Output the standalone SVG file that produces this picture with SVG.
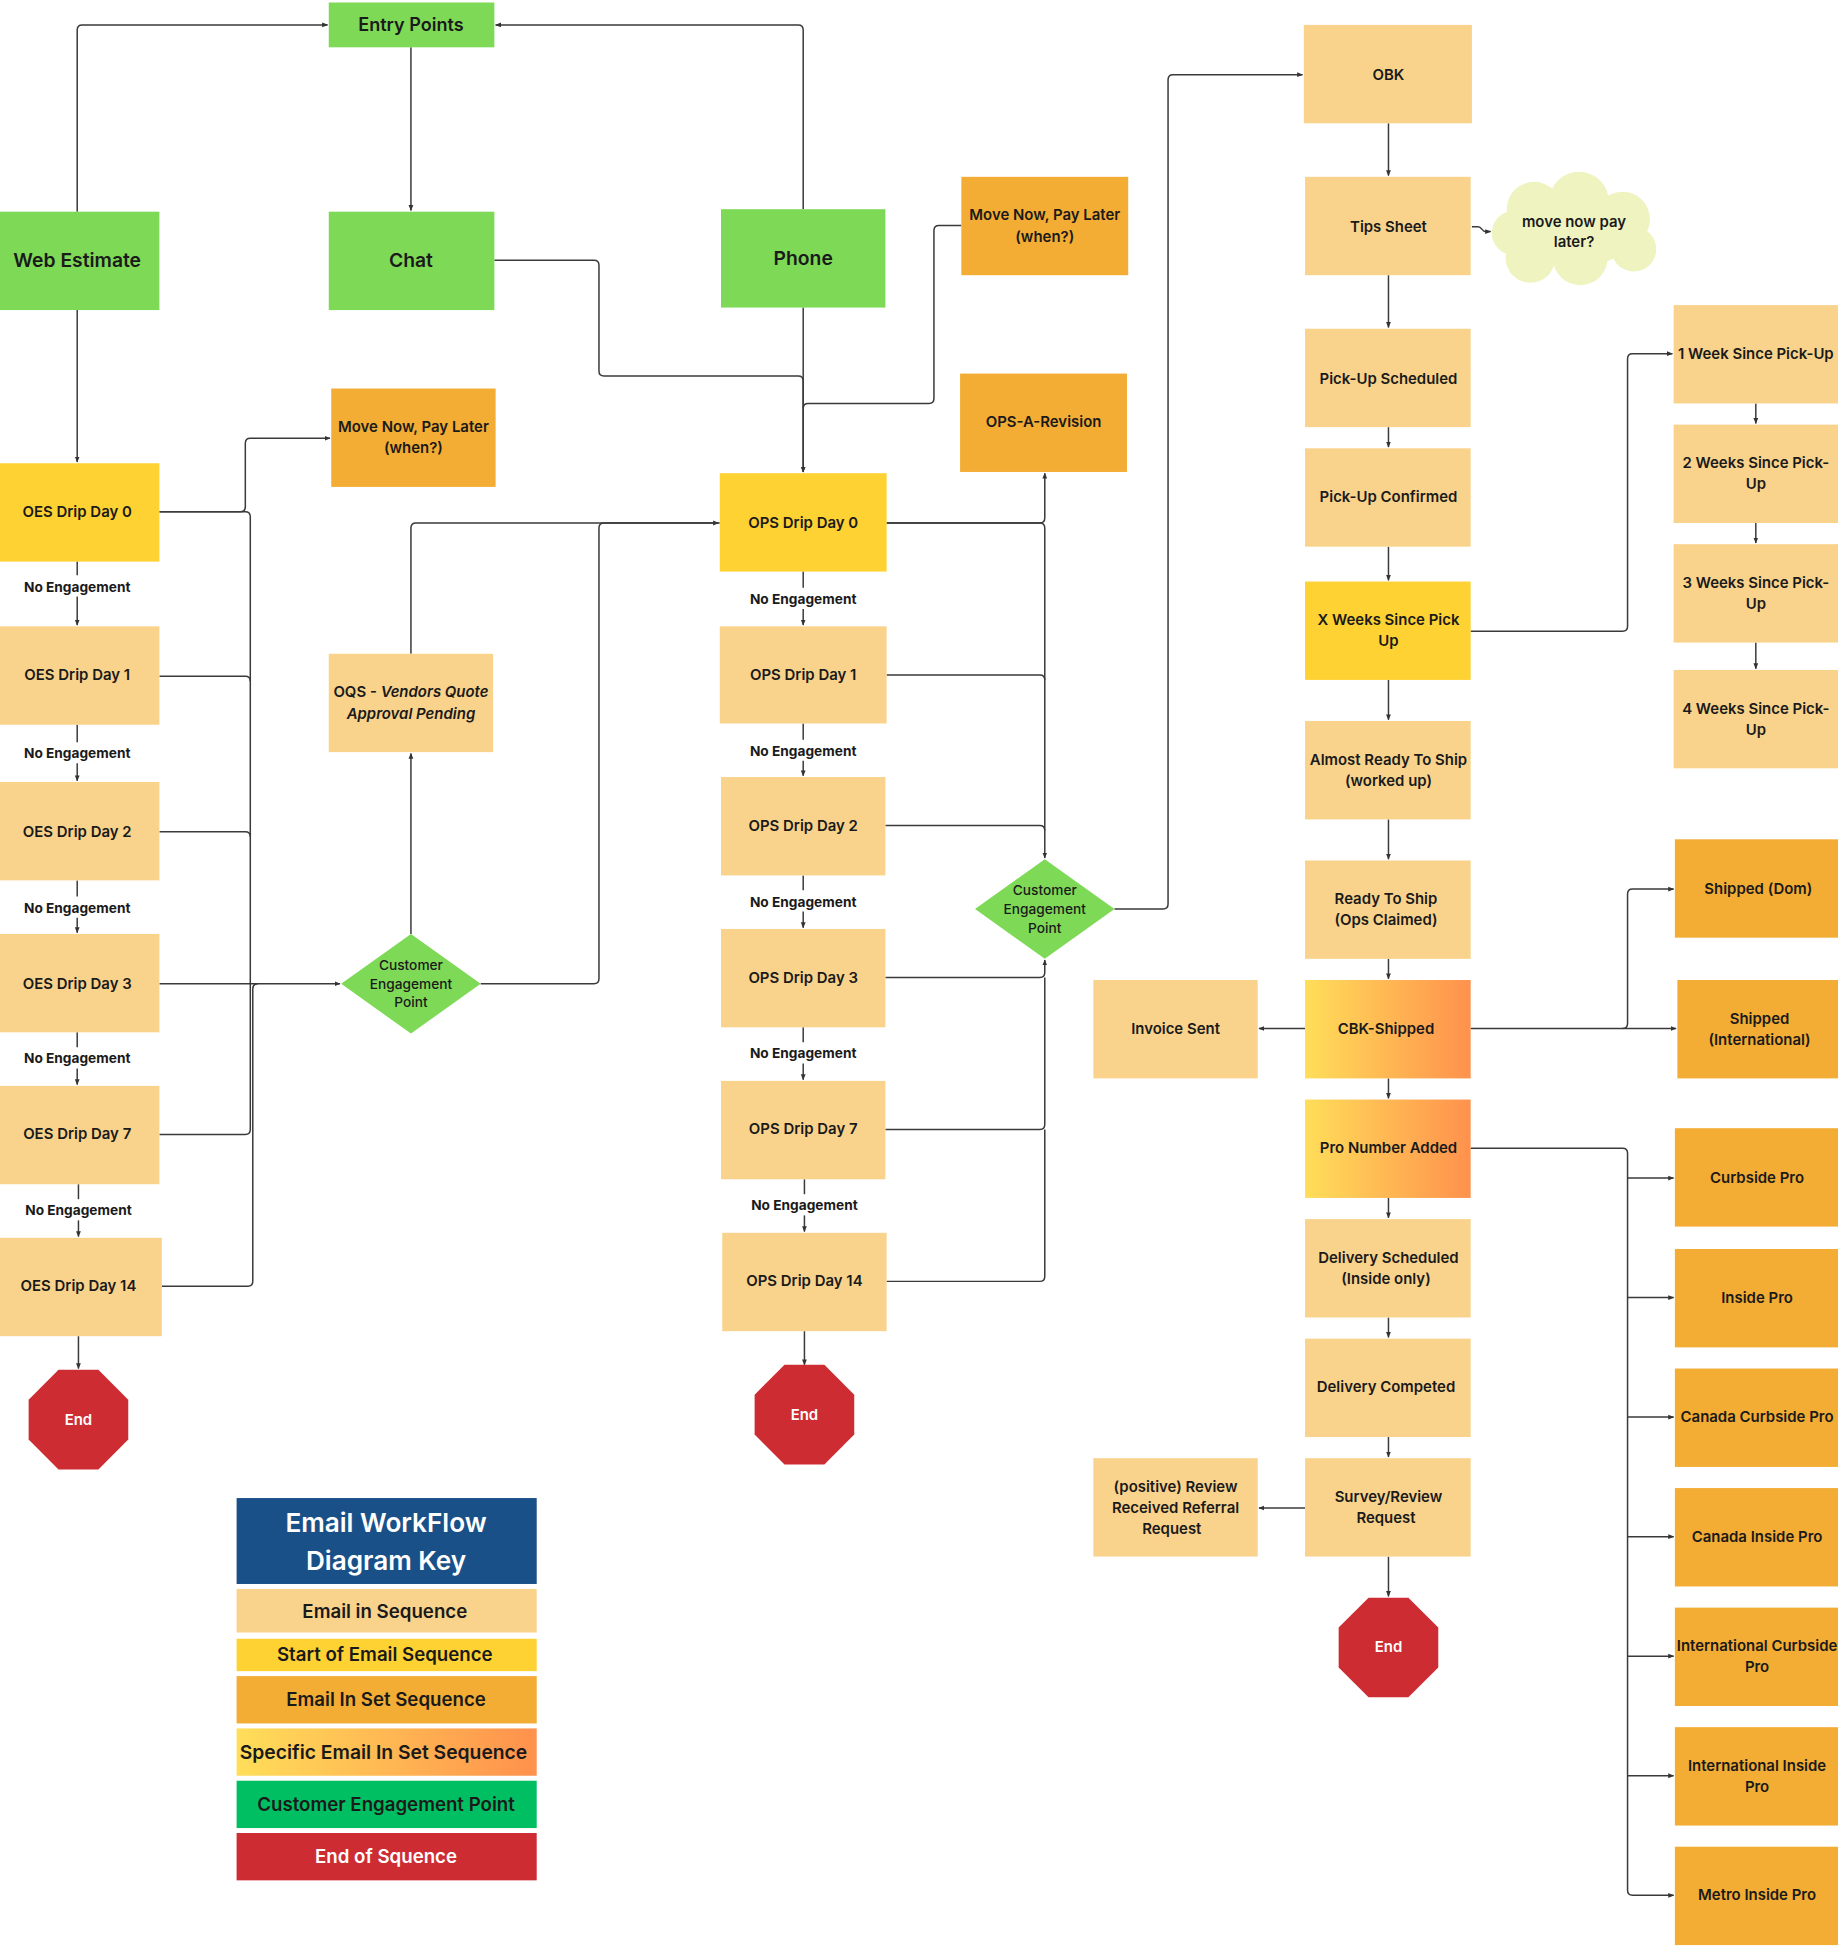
<svg xmlns="http://www.w3.org/2000/svg" width="1838" height="1953" viewBox="0 0 1838 1953">
<defs>
<style>
.t{font-family:Inter,'Noto Sans','Liberation Sans',sans-serif;font-weight:600;font-size:12px;fill:#1a1a1a;text-anchor:middle;dominant-baseline:central}
.big{font-size:15.5px}
.ne{font-size:11px;font-weight:700}
.dm{font-size:11px;font-weight:500}
.lg{font-size:15px}
.w{fill:#ffffff}
.green{fill:#7ED957}
.peach{fill:#F9D38C}
.yellow{fill:#FFD233}
.orange{fill:#F3AC34}
.grad{fill:url(#gr)}
.red{fill:#CD2C33}
.ln{fill:none;stroke:#3a3a3a;stroke-width:1.2;stroke-linejoin:round}
.ar{marker-end:url(#ah)}
</style>
<linearGradient id="gr" x1="0" y1="0" x2="1" y2="0">
<stop offset="0" stop-color="#FFDE59"/>
<stop offset="1" stop-color="#FF914D"/>
</linearGradient>
<marker id="ah" viewBox="0 0 10 10" refX="9" refY="5" markerWidth="4" markerHeight="4" orient="auto-start-reverse">
<path d="M0,1 L10,5 L0,9 z" fill="#333"/>
</marker>
</defs>
<rect width="1838" height="1953" fill="#ffffff"/>
<g transform="scale(1.24526)">

<g id="connectors">
<path class="ln ar" d="M62,170 V24 Q62,20 66,20 H263"/>
<path class="ln ar" d="M645,168 V24 Q645,20 641,20 H398"/>
<path class="ln ar" d="M330,38 V169"/>
<path class="ln ar" d="M397,209 H477 Q481,209 481,213 V298 Q481,302 485,302 H641 Q645,302 645,306 V379"/>
<path class="ln ar" d="M645,247 V379"/>
<path class="ln" d="M772,181 H754 Q750,181 750,185 V320 Q750,324 746,324 H649 Q645,324 645,328"/>
<path class="ln ar" d="M62,249 V371"/>
<path class="ln ar" d="M128,411 H193 Q197,411 197,407 V356 Q197,352 201,352 H265"/>
<path class="ln ar" d="M128,411 H197 Q201,411 201,415 V790 H273"/>
<path class="ln" d="M128,543 H197 Q201,543 201,547"/>
<path class="ln" d="M128,668 H197 Q201,668 201,672"/>
<path class="ln" d="M128,790 H201"/>
<path class="ln" d="M128,911 H197 Q201,911 201,907 V790"/>
<path class="ln" d="M130,1033 H199 Q203,1033 203,1029 V794 Q203,790 207,790"/>
<path class="ln ar" d="M330,750 V605"/>
<path class="ln ar" d="M330,525 V424 Q330,420 334,420 H577"/>
<path class="ln" d="M386,790 H477 Q481,790 481,786 V424 Q481,420 485,420 H578"/>
<path class="ln" d="M62,451 V462"/><path class="ln ar" d="M62,479 V502"/>
<path class="ln" d="M62,582 V596"/><path class="ln ar" d="M62,613 V627"/>
<path class="ln" d="M62,707 V720"/><path class="ln ar" d="M62,737 V749"/>
<path class="ln" d="M62,829 V841"/><path class="ln ar" d="M62,858 V871"/>
<path class="ln" d="M63,951 V963"/><path class="ln ar" d="M63,980 V993"/>
<path class="ln ar" d="M63,1073 V1099"/>
<path class="ln" d="M645,459 V472"/><path class="ln ar" d="M645,489 V502"/>
<path class="ln" d="M645,581 V594"/><path class="ln ar" d="M645,611 V623"/>
<path class="ln" d="M645,703 V715"/><path class="ln ar" d="M645,732 V745"/>
<path class="ln" d="M645,825 V837"/><path class="ln ar" d="M645,854 V867"/>
<path class="ln" d="M646,947 V959"/><path class="ln ar" d="M646,976 V989"/>
<path class="ln ar" d="M646,1069 V1096"/>
<path class="ln ar" d="M712,420 H835 Q839,420 839,416 V380"/>
<path class="ln ar" d="M712,420 H835 Q839,420 839,424 V689"/>
<path class="ln" d="M712,542 H835 Q839,542 839,546"/>
<path class="ln" d="M711,663 H835 Q839,663 839,667"/>
<path class="ln ar" d="M711,785 H835 Q839,785 839,781 V771"/>
<path class="ln" d="M711,907 H835 Q839,907 839,903 V785"/>
<path class="ln" d="M712,1029 H835 Q839,1029 839,1025 V907"/>
<path class="ln ar" d="M895,730 H934 Q938,730 938,726 V64 Q938,60 942,60 H1046"/>
<path class="ln ar" d="M1115,99 V141"/>
<path class="ln ar" d="M1115,221 V263"/>
<path class="ln ar" d="M1115,343 V359"/>
<path class="ln ar" d="M1115,439 V466"/>
<path class="ln ar" d="M1115,546 V578"/>
<path class="ln ar" d="M1115,658 V690"/>
<path class="ln ar" d="M1115,770 V786"/>
<path class="ln ar" d="M1115,866 V882"/>
<path class="ln ar" d="M1115,962 V978"/>
<path class="ln ar" d="M1115,1058 V1074"/>
<path class="ln ar" d="M1115,1154 V1170"/>
<path class="ln ar" d="M1115,1250 V1282"/>
<path class="ln ar" d="M1182,182 H1187 C1190,182 1190,186 1193,186 H1197"/>
<path class="ln ar" d="M1181,507 H1303 Q1307,507 1307,503 V288 Q1307,284 1311,284 H1343"/>
<path class="ln ar" d="M1410,324 V340"/>
<path class="ln ar" d="M1410,420 V436"/>
<path class="ln ar" d="M1410,516 V537"/>
<path class="ln ar" d="M1181,826 H1346"/>
<path class="ln ar" d="M1303,826 Q1307,826 1307,822 V718 Q1307,714 1311,714 H1344"/>
<path class="ln ar" d="M1048,826 H1011"/>
<path class="ln ar" d="M1048,1211 H1011"/>
<path class="ln ar" d="M1181,922 H1303 Q1307,922 1307,926 V1518 Q1307,1522 1311,1522 H1344"/>
<path class="ln ar" d="M1307,946 H1344"/>
<path class="ln ar" d="M1307,1042 H1344"/>
<path class="ln ar" d="M1307,1138 H1344"/>
<path class="ln ar" d="M1307,1234 H1344"/>
<path class="ln ar" d="M1307,1330 H1344"/>
<path class="ln ar" d="M1307,1426 H1344"/>
</g>

<g id="labels">
<text class="t ne" x="62" y="471">No  Engagement</text>
<text class="t ne" x="62" y="605">No Engagement</text>
<text class="t ne" x="62" y="729">No Engagement</text>
<text class="t ne" x="62" y="850">No Engagement</text>
<text class="t ne" x="63" y="972">No Engagement</text>
<text class="t ne" x="645" y="481">No Engagement</text>
<text class="t ne" x="645" y="603">No Engagement</text>
<text class="t ne" x="645" y="724">No Engagement</text>
<text class="t ne" x="645" y="846">No Engagement</text>
<text class="t ne" x="646" y="968">No Engagement</text>
</g>

<g id="entry-points"><rect class="green" x="264" y="2" width="133" height="36"/><text class="t" style="font-size:14.5px" x="330" y="20">Entry Points</text></g>
<g id="web-estimate"><rect class="green" x="0" y="170" width="128" height="79"/><text class="t big" x="62" y="209">Web Estimate</text></g>
<g id="chat"><rect class="green" x="264" y="170" width="133" height="79"/><text class="t big" x="330" y="209">Chat</text></g>
<g id="phone"><rect class="green" x="579" y="168" width="132" height="79"/><text class="t big" x="645" y="207">Phone</text></g>

<g id="mnpl-left"><rect class="orange" x="266" y="312" width="132" height="79"/><text class="t" x="332" y="343">Move Now, Pay Later</text><text class="t" x="332" y="360">(when?)</text></g>
<g id="mnpl-right"><rect class="orange" x="772" y="142" width="134" height="79"/><text class="t" x="839" y="173">Move Now, Pay Later</text><text class="t" x="839" y="190">(when?)</text></g>
<g id="ops-a-revision"><rect class="orange" x="771" y="300" width="134" height="79"/><text class="t" x="838" y="339">OPS-A-Revision</text></g>
<g id="oqs"><rect class="peach" x="264" y="525" width="132" height="79"/><text class="t" x="330" y="556">OQS - <tspan font-style="italic">Vendors Quote</tspan></text><text class="t" font-style="italic" x="330" y="573">Approval Pending</text></g>

<g id="oes0"><rect class="yellow" x="0" y="372" width="128" height="79"/><text class="t" x="62" y="411">OES Drip Day 0</text></g>
<g id="oes1"><rect class="peach" x="0" y="503" width="128" height="79"/><text class="t" x="62" y="542">OES Drip Day 1</text></g>
<g id="oes2"><rect class="peach" x="0" y="628" width="128" height="79"/><text class="t" x="62" y="668">OES Drip Day 2</text></g>
<g id="oes3"><rect class="peach" x="0" y="750" width="128" height="79"/><text class="t" x="62" y="790">OES Drip Day 3</text></g>
<g id="oes7"><rect class="peach" x="0" y="872" width="128" height="79"/><text class="t" x="62" y="911">OES Drip Day 7</text></g>
<g id="oes14"><rect class="peach" x="0" y="994" width="130" height="79"/><text class="t" x="63" y="1033">OES Drip Day 14</text></g>
<g id="end-oes"><polygon class="red" points="47,1100 79,1100 103,1124 103,1156 79,1180 47,1180 23,1156 23,1124"/><text class="t w" x="63" y="1140">End</text></g>

<g id="cep-left"><polygon class="green" points="274,790 330,750 386,790 330,830"/><text class="t dm" x="330" y="775">Customer</text><text class="t dm" x="330" y="790">Engagement</text><text class="t dm" x="330" y="805">Point</text></g>

<g id="ops0"><rect class="yellow" x="578" y="380" width="134" height="79"/><text class="t" x="645" y="420">OPS Drip Day 0</text></g>
<g id="ops1"><rect class="peach" x="578" y="503" width="134" height="78"/><text class="t" x="645" y="542">OPS Drip Day 1</text></g>
<g id="ops2"><rect class="peach" x="579" y="624" width="132" height="79"/><text class="t" x="645" y="663">OPS Drip Day 2</text></g>
<g id="ops3"><rect class="peach" x="579" y="746" width="132" height="79"/><text class="t" x="645" y="785">OPS Drip Day 3</text></g>
<g id="ops7"><rect class="peach" x="579" y="868" width="132" height="79"/><text class="t" x="645" y="907">OPS Drip Day 7</text></g>
<g id="ops14"><rect class="peach" x="580" y="990" width="132" height="79"/><text class="t" x="646" y="1029">OPS Drip Day 14</text></g>
<g id="end-ops"><polygon class="red" points="630,1096 662,1096 686,1120 686,1152 662,1176 630,1176 606,1152 606,1120"/><text class="t w" x="646" y="1136">End</text></g>

<g id="cep-right"><polygon class="green" points="783,730 839,690 895,730 839,770"/><text class="t dm" x="839" y="715">Customer</text><text class="t dm" x="839" y="730">Engagement</text><text class="t dm" x="839" y="745">Point</text></g>

<g id="obk"><rect class="peach" x="1047" y="20" width="135" height="79"/><text class="t" x="1115" y="60">OBK</text></g>
<g id="tips-sheet"><rect class="peach" x="1048" y="142" width="133" height="79"/><text class="t" x="1115" y="182">Tips Sheet</text></g>
<g id="cloud"><g fill="#EFF3C0"><circle cx="1232" cy="168" r="22"/><circle cx="1268" cy="162" r="24"/><circle cx="1303" cy="176" r="22"/><circle cx="1312" cy="200" r="18"/><circle cx="1269" cy="207" r="22"/><circle cx="1229" cy="207" r="20"/><circle cx="1216" cy="187" r="18"/><ellipse cx="1264" cy="186" rx="50" ry="28"/></g><text class="t" x="1264" y="178">move now pay</text><text class="t" x="1264" y="194">later?</text></g>
<g id="pickup-scheduled"><rect class="peach" x="1048" y="264" width="133" height="79"/><text class="t" x="1115" y="304">Pick-Up Scheduled</text></g>
<g id="pickup-confirmed"><rect class="peach" x="1048" y="360" width="133" height="79"/><text class="t" x="1115" y="399">Pick-Up Confirmed</text></g>
<g id="x-weeks"><rect class="yellow" x="1048" y="467" width="133" height="79"/><text class="t" x="1115" y="498">X Weeks Since Pick</text><text class="t" x="1115" y="515">Up</text></g>
<g id="almost-ready"><rect class="peach" x="1048" y="579" width="133" height="79"/><text class="t" x="1115" y="610">Almost Ready To Ship</text><text class="t" x="1115" y="627">(worked up)</text></g>
<g id="ready-to-ship"><rect class="peach" x="1048" y="691" width="133" height="79"/><text class="t" x="1113" y="722">Ready To Ship</text><text class="t" x="1113" y="739">(Ops Claimed)</text></g>
<g id="cbk-shipped"><rect class="grad" x="1048" y="787" width="133" height="79"/><text class="t" x="1113" y="826">CBK-Shipped</text></g>
<g id="pro-number"><rect class="grad" x="1048" y="883" width="133" height="79"/><text class="t" x="1115" y="922">Pro Number Added</text></g>
<g id="delivery-scheduled"><rect class="peach" x="1048" y="979" width="133" height="79"/><text class="t" x="1115" y="1010">Delivery Scheduled</text><text class="t" x="1113" y="1027">(Inside only)</text></g>
<g id="delivery-completed"><rect class="peach" x="1048" y="1075" width="133" height="79"/><text class="t" x="1113" y="1114">Delivery Competed</text></g>
<g id="survey"><rect class="peach" x="1048" y="1171" width="133" height="79"/><text class="t" x="1115" y="1202">Survey/Review</text><text class="t" x="1113" y="1219">Request</text></g>
<g id="end-right"><polygon class="red" points="1099,1283 1131,1283 1155,1307 1155,1339 1131,1363 1099,1363 1075,1339 1075,1307"/><text class="t w" x="1115" y="1323">End</text></g>

<g id="invoice-sent"><rect class="peach" x="878" y="787" width="132" height="79"/><text class="t" x="944" y="826">Invoice Sent</text></g>
<g id="review"><rect class="peach" x="878" y="1171" width="132" height="79"/><text class="t" x="944" y="1194">(positive) Review</text><text class="t" x="944" y="1211">Received Referral</text><text class="t" x="941" y="1228">Request</text></g>

<g id="week1"><rect class="peach" x="1344" y="245" width="136" height="79"/><text class="t" x="1410" y="284">1 Week Since Pick-Up</text></g>
<g id="week2"><rect class="peach" x="1344" y="341" width="136" height="79"/><text class="t" x="1410" y="372">2 Weeks Since Pick-</text><text class="t" x="1410" y="389">Up</text></g>
<g id="week3"><rect class="peach" x="1344" y="437" width="136" height="79"/><text class="t" x="1410" y="468">3 Weeks Since Pick-</text><text class="t" x="1410" y="485">Up</text></g>
<g id="week4"><rect class="peach" x="1344" y="538" width="136" height="79"/><text class="t" x="1410" y="569">4 Weeks Since Pick-</text><text class="t" x="1410" y="586">Up</text></g>
<g id="shipped-dom"><rect class="orange" x="1345" y="674" width="135" height="79"/><text class="t" x="1412" y="714">Shipped (Dom)</text></g>
<g id="shipped-intl"><rect class="orange" x="1347" y="787" width="133" height="79"/><text class="t" x="1413" y="818">Shipped</text><text class="t" x="1413" y="835">(International)</text></g>
<g id="curbside-pro"><rect class="orange" x="1345" y="906" width="135" height="79"/><text class="t" x="1411" y="946">Curbside Pro</text></g>
<g id="inside-pro"><rect class="orange" x="1345" y="1003" width="135" height="79"/><text class="t" x="1411" y="1042">Inside Pro</text></g>
<g id="canada-curbside"><rect class="orange" x="1345" y="1099" width="135" height="79"/><text class="t" x="1411" y="1138">Canada Curbside Pro</text></g>
<g id="canada-inside"><rect class="orange" x="1345" y="1195" width="135" height="79"/><text class="t" x="1411" y="1234">Canada Inside Pro</text></g>
<g id="intl-curbside"><rect class="orange" x="1345" y="1291" width="135" height="79"/><text class="t" x="1411" y="1322">International Curbside</text><text class="t" x="1411" y="1339">Pro</text></g>
<g id="intl-inside"><rect class="orange" x="1345" y="1387" width="135" height="79"/><text class="t" x="1411" y="1418">International Inside</text><text class="t" x="1411" y="1435">Pro</text></g>
<g id="metro-inside"><rect class="orange" x="1345" y="1483" width="135" height="79"/><text class="t" x="1411" y="1522">Metro Inside Pro</text></g>

<g id="legend">
<rect x="190" y="1203" width="241" height="69" fill="#1A5088"/>
<text class="t w" style="font-size:21px" x="310" y="1223">Email WorkFlow</text>
<text class="t w" style="font-size:21px" x="310" y="1253">Diagram Key</text>
<rect class="peach" x="190" y="1276" width="241" height="35"/><text class="t lg" x="309" y="1294">Email in Sequence</text>
<rect class="yellow" x="190" y="1316" width="241" height="26"/><text class="t lg" x="309" y="1329">Start of Email Sequence</text>
<rect class="orange" x="190" y="1346" width="241" height="38"/><text class="t lg" x="310" y="1365">Email In Set Sequence</text>
<rect class="grad" x="190" y="1388" width="241" height="38"/><text class="t lg" style="font-size:15.5px" x="308" y="1407">Specific Email In Set Sequence</text>
<rect x="190" y="1430" width="241" height="38" fill="#00BF63"/><text class="t lg" x="310" y="1449">Customer Engagement Point</text>
<rect class="red" x="190" y="1472" width="241" height="38"/><text class="t lg w" x="310" y="1491">End of Squence</text>
</g>

</g>
</svg>
